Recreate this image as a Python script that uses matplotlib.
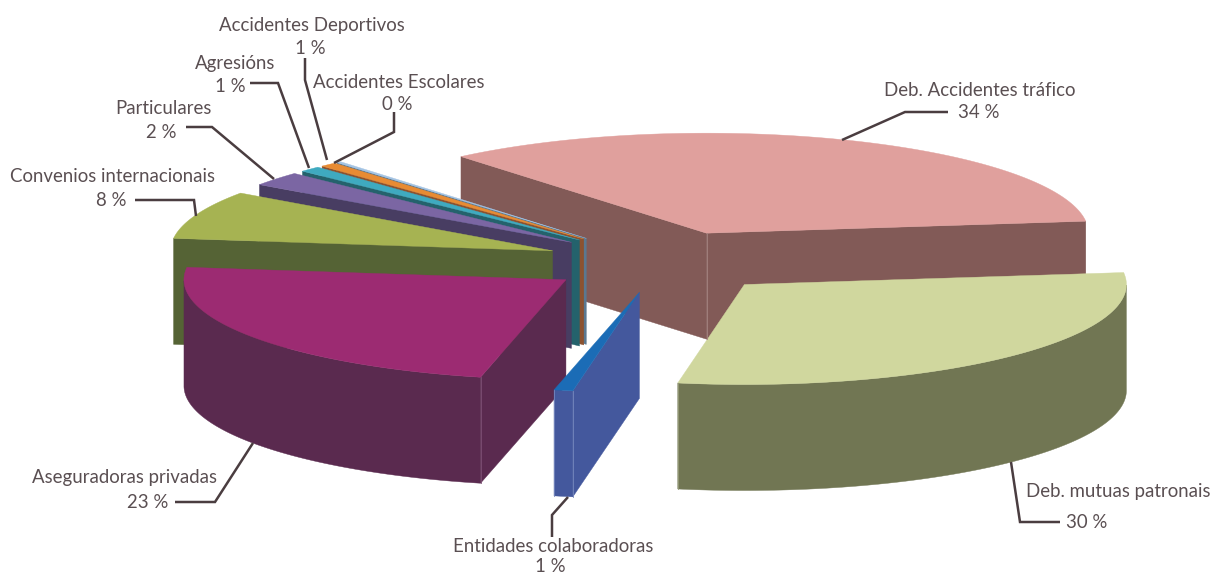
import numpy as np
import matplotlib
matplotlib.use("Agg")
import matplotlib.pyplot as plt
from matplotlib.patches import Polygon

# --- data
names = ["Deb. Accidentes tráfico", "Deb. mutuas patronais", "Entidades colaboradoras",
         "Aseguradoras privadas", "Convenios internacionais", "Particulares",
         "Agresións", "Accidentes Deportivos", "Accidentes Escolares"]
values = [34.2, 29.7, 0.8, 23.4, 7.8, 2.3, 0.9, 0.7, 0.2]
pct_labels = ["34 %", "30 %", "1 %", "23 %", "8 %", "2 %", "1 %", "1 %", "0 %"]

# --- styles
top_cols = ["#E0A09D", "#D0D79E", "#1B6CB6", "#9C2B72", "#A6B352", "#7B66A3", "#3FAAC0", "#E88B33", "#A4C4E4"]
side_cols = ["#825A57", "#717653", "#44589D", "#5A2A4F", "#556335", "#483D62", "#24626C", "#8C5230", "#5A7890"]
edge_cols = ["#A58481", "#969A78", "#7688BE", "#7D5075", "#556335", "#483D62", "#24626C", "#8C5230", "#5A7890"]
draw_order = [0, 8, 7, 6, 5, 4, 3, 2, 1]

CX, CY, RX, RY, DEPTH, EXPLODE, START = 663, 262, 382, 100, 106, 0.31, 130.0
TEXT = "#5A4F52"
LINE = "#4A3D40"

name_pos = [(980, 90), (1118, 492), (553, 547), (124, 478), (113, 176), (163, 109), (235, 63), (312, 25), (398.5, 82)]
pct_pos = [(979, 113), (1087, 523), (550, 566), (148, 503), (111, 200), (161, 133), (230, 86), (310, 48), (397, 105)]
leaders = [[(948, 112), (905, 112), (842, 140)],
           [(1060, 522), (1020, 522), (1011, 462)],
           [(552, 537), (552, 515), (568, 497)],
           [(175, 502), (215, 502), (253, 443)],
           [(135, 200), (194, 200), (196, 216)],
           [(186, 127), (212, 127), (274, 179)],
           [(250, 83), (278, 83), (309, 168)],
           [(305, 58), (305, 80), (327, 160)],
           [(394, 112), (394, 132), (334, 163)]]

fig = plt.figure(figsize=(12.13, 5.75), dpi=100)
ax = fig.add_axes([0, 0, 1, 1])
ax.set_xlim(0, 1213)
ax.set_ylim(575, 0)
ax.axis("off")

v = np.array(values, dtype=float)
bounds = START - 360.0 * np.concatenate([[0], np.cumsum(v)]) / v.sum()


def rim(t):
    r = np.radians(t)
    return np.column_stack([RX * np.cos(r), -RY * np.sin(r)])


for i in draw_order:
    t0, t1 = bounds[i], bounds[i + 1]
    mid = (t0 + t1) / 2
    m = rim(np.array([mid]))[0]
    apex = np.array([CX, CY]) + EXPLODE * m
    ts = np.linspace(t0, t1, 120)
    arc = apex + rim(ts)
    down = np.array([0, DEPTH])
    # radial faces
    for t in (t0, t1):
        d = rim(np.array([t]))[0]
        n = np.array([-d[1], d[0]])
        if n.dot(m) * d[0] < 0:
            p = apex + d
            ax.add_patch(Polygon([apex, p, p + down, apex + down], closed=True,
                                 fc=side_cols[i], ec=side_cols[i], lw=0.3))
    # outer wall (front half only)
    s = np.sin(np.radians(ts)) <= 0
    if s.any():
        a = arc[s]
        ax.add_patch(Polygon(np.vstack([a, (a + down)[::-1]]), closed=True,
                             fc=side_cols[i], ec=side_cols[i], lw=0.3))
        for t in (t0, t1):
            if np.sin(np.radians(t)) < 0:
                p = apex + rim(np.array([t]))[0]
                ax.plot([p[0], p[0]], [p[1], p[1] + DEPTH], color=edge_cols[i], lw=0.6)
    if i == 0:
        ax.plot([apex[0], apex[0]], [apex[1], apex[1] + DEPTH], color=edge_cols[i], lw=0.6)
    ax.add_patch(Polygon(np.vstack([apex, arc]), closed=True,
                         fc=top_cols[i], ec=top_cols[i], lw=0.3))

for pts in leaders:
    xs, ys = zip(*pts)
    ax.plot(xs, ys, color=LINE, lw=1.8, solid_joinstyle="miter", solid_capstyle="butt")

font = dict(family="Lato", size=13.4, color=TEXT, ha="center", va="center")
for nm, pc, np_, pp in zip(names, pct_labels, name_pos, pct_pos):
    ax.text(np_[0], np_[1], nm, **font)
    ax.text(pp[0], pp[1], pc, **font)

fig.savefig("out.png", dpi=100, facecolor="white")
